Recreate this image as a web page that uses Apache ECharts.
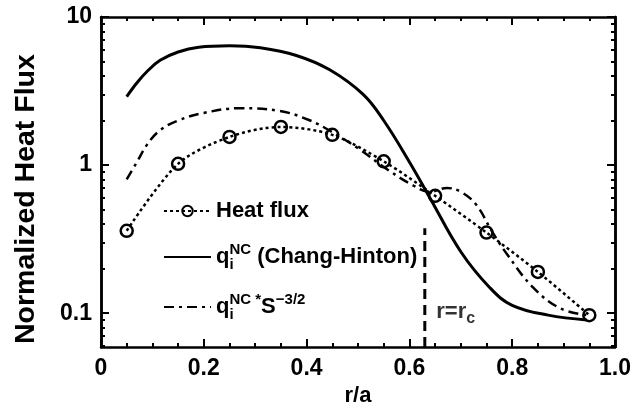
<!DOCTYPE html>
<html>
<head>
<meta charset="utf-8">
<script src="https://cdn.jsdelivr.net/npm/echarts@6/dist/echarts.min.js"></script>
<style>
html, body {
	margin: 0;
	padding: 0;
	background: #fff;
}

#chart {
	width: 644px;
	height: 412px;
}
</style>
</head>
<body>
<div id="chart"></div>
<script type="text/javascript">
	// heat flux (circles)
	var fluxR = [0.05, 0.15, 0.25, 0.35, 0.45, 0.55, 0.65, 0.75, 0.85, 0.95];
	var fluxQ = [0.36, 1.02, 1.55, 1.81, 1.6, 1.06, 0.62, 0.35, 0.19, 0.097];
	// q_i^NC (Chang-Hinton), solid
	var chR = [0.05, 0.07, 0.09, 0.115, 0.15, 0.19, 0.25, 0.31, 0.38, 0.445, 0.51, 0.55, 0.6, 0.64, 0.7, 0.757, 0.8, 0.87, 0.945];
	var chQ = [2.9, 3.6, 4.3, 5.1, 5.8, 6.25, 6.4, 6.2, 5.5, 4.4, 3.0, 2.0, 1.05, 0.6, 0.26, 0.148, 0.113, 0.097, 0.09];
	// q_i^NC * S^-3/2, dash-dot
	var ddR = [0.05, 0.07, 0.09, 0.115, 0.15, 0.2, 0.27, 0.348, 0.407, 0.446, 0.5, 0.56, 0.607, 0.64, 0.673, 0.7, 0.73, 0.76, 0.79, 0.84, 0.893, 0.945];
	var ddQ = [0.8, 1.05, 1.38, 1.72, 2.0, 2.25, 2.42, 2.32, 2.0, 1.7, 1.3, 0.92, 0.73, 0.66, 0.7, 0.66, 0.54, 0.36, 0.25, 0.15, 0.108, 0.097];
	// r = r_c marker
	var rcR = [0.63, 0.63];
	var rcQ = [0.059, 0.375];
	// axes
	var yMin = 0.059, yMax = 10;
	var yMajor = [0.1, 1, 10];
	var yMajorText = ['0.1', '1', '10'];
	var yMinor = [0.06, 0.07, 0.08, 0.09, 0.2, 0.3, 0.4, 0.5, 0.6, 0.7, 0.8, 0.9, 2, 3, 4, 5, 6, 7, 8, 9];

	var FONT = "'Liberation Sans', Arial, sans-serif";

	function lg(v) {
		return Math.log10(v);
	}
	function pairs(xs, ys) {
		var out = [];
		for (var i = 0; i < xs.length; ++i) {
			out.push([xs[i], lg(ys[i])]);
		}
		return out;
	}

	var legendText = {
		'flux' : '{t|Heat flux}',
		'chang' : '{t|q}{sub|i}{sup|NC}{t| (Chang-Hinton)}',
		'scaled' : '{t|q}{sub|i}{sup|NC *}{t|S}{sup|\u22123/2}'
	};
	var richText = {
		t : { fontFamily : FONT, fontWeight : 'bold', fontSize : 22, lineHeight : 30, color : '#000' },
		sup : { fontFamily : FONT, fontWeight : 'bold', fontSize : 15, lineHeight : 16, verticalAlign : 'top', color : '#000' },
		sub : { fontFamily : FONT, fontWeight : 'bold', fontSize : 15, lineHeight : 10, verticalAlign : 'bottom', width : 0, color : '#000' }
	};

	function yAxisDef(pos, ticks, len, showLabel) {
		return {
			type : 'value',
			position : pos,
			min : lg(yMin),
			max : lg(yMax),
			splitLine : { show : false },
			axisLine : { show : true, onZero : false, lineStyle : { color : '#000', width : 2.5 } },
			axisTick : { show : true, inside : true, length : len, lineStyle : { color : '#000', width : 2 }, customValues : ticks.map(lg) },
			axisLabel : {
				show : showLabel,
				customValues : yMajor.map(lg),
				margin : 9,
				fontFamily : FONT,
				fontWeight : 'bold',
				fontSize : 23,
				color : '#000',
				formatter : function(v) {
					for (var i = 0; i < yMajor.length; ++i) {
						if (Math.abs(lg(yMajor[i]) - v) < 1e-6) return yMajorText[i];
					}
					return '';
				}
			}
		};
	}

	function xAxisDef(pos, showLabel) {
		return {
			type : 'value',
			position : pos,
			min : 0,
			max : 1,
			interval : 0.2,
			splitLine : { show : false },
			axisLine : { show : true, onZero : false, lineStyle : { color : '#000', width : 2.5 } },
			axisTick : { show : true, inside : true, length : 8, lineStyle : { color : '#000', width : 2 } },
			minorTick : { show : true, splitNumber : 4, length : 4, lineStyle : { color : '#000', width : 2 } },
			axisLabel : {
				show : showLabel,
				margin : 10,
				fontFamily : FONT,
				fontWeight : 'bold',
				fontSize : 23,
				color : '#000',
				formatter : function(v) {
					return v === 0 ? '0' : v.toFixed(1);
				}
			}
		};
	}

	var xBottom = xAxisDef('bottom', true);
	xBottom.name = 'r/a';
	xBottom.nameLocation = 'middle';
	xBottom.nameGap = 37;
	xBottom.nameTextStyle = { fontFamily : FONT, fontWeight : 'bold', fontSize : 22, color : '#000' };

	var yLeft = yAxisDef('left', yMajor, 8, true);
	yLeft.name = 'Normalized Heat Flux';
	yLeft.nameLocation = 'middle';
	yLeft.nameGap = 60;
	yLeft.nameTextStyle = { fontFamily : FONT, fontWeight : 'bold', fontSize : 28.5, color : '#000', padding : [ 0, 34, 0, 0 ] };

	var myChart = echarts.init(document.getElementById('chart'));
	var option = {
		animation : false,
		backgroundColor : '#fff',
		grid : { left : 101, right : 29, top : 17, bottom : 64 },
		xAxis : [ xBottom, xAxisDef('top', false) ],
		yAxis : [ yLeft, yAxisDef('left', yMinor, 4, false), yAxisDef('right', yMajor, 8, false), yAxisDef('right', yMinor, 4, false) ],
		legend : {
			data : [ { name : 'flux' }, { name : 'chang', itemStyle : { opacity : 0 } }, { name : 'scaled', itemStyle : { opacity : 0 } } ],
			orient : 'vertical',
			left : 158,
			top : 195,
			itemWidth : 47,
			itemHeight : 13,
			itemGap : 20,
			selectedMode : false,
			formatter : function(name) {
				return legendText[name];
			},
			textStyle : { rich : richText }
		},
		series : [ {
			name : 'flux',
			type : 'line',
			data : pairs(fluxR, fluxQ),
			smooth : 0.3,
			symbol : 'circle',
			symbolSize : 12,
			itemStyle : { color : 'rgba(0,0,0,0)', borderColor : '#000', borderWidth : 2.5 },
			lineStyle : { color : '#000', width : 2.5, type : [ 3, 3 ] },
			z : 4
		}, {
			name : 'chang',
			type : 'line',
			data : pairs(chR, chQ),
			smooth : 0.4,
			showSymbol : false,
			symbol : 'none',
			itemStyle : { color : '#000' },
			lineStyle : { color : '#000', width : 3 }
		}, {
			name : 'scaled',
			type : 'line',
			data : pairs(ddR, ddQ),
			smooth : 0.4,
			showSymbol : false,
			symbol : 'none',
			itemStyle : { color : '#000' },
			lineStyle : { color : '#000', width : 2.5, type : [ 10, 5, 3, 5 ] }
		}, {
			name : 'rc',
			type : 'line',
			data : pairs(rcR, rcQ),
			symbol : 'none',
			lineStyle : { color : '#000', width : 3, type : [ 10, 6 ] }
		}, {
			name : 'rcLabel',
			type : 'scatter',
			data : [ [ 0.69, lg(0.102) ] ],
			symbolSize : 0,
			label : {
				show : true,
				position : 'inside',
				formatter : '{t|r=r}{sub2|c}',
				rich : {
					t : { fontFamily : FONT, fontWeight : 'bold', fontSize : 22, lineHeight : 30, color : '#000' },
					sub2 : { fontFamily : FONT, fontWeight : 'bold', fontSize : 16, lineHeight : 12, verticalAlign : 'bottom', color : '#000' }
				}
			}
		} ]
	};
	myChart.setOption(option);
</script>
</body>
</html>
